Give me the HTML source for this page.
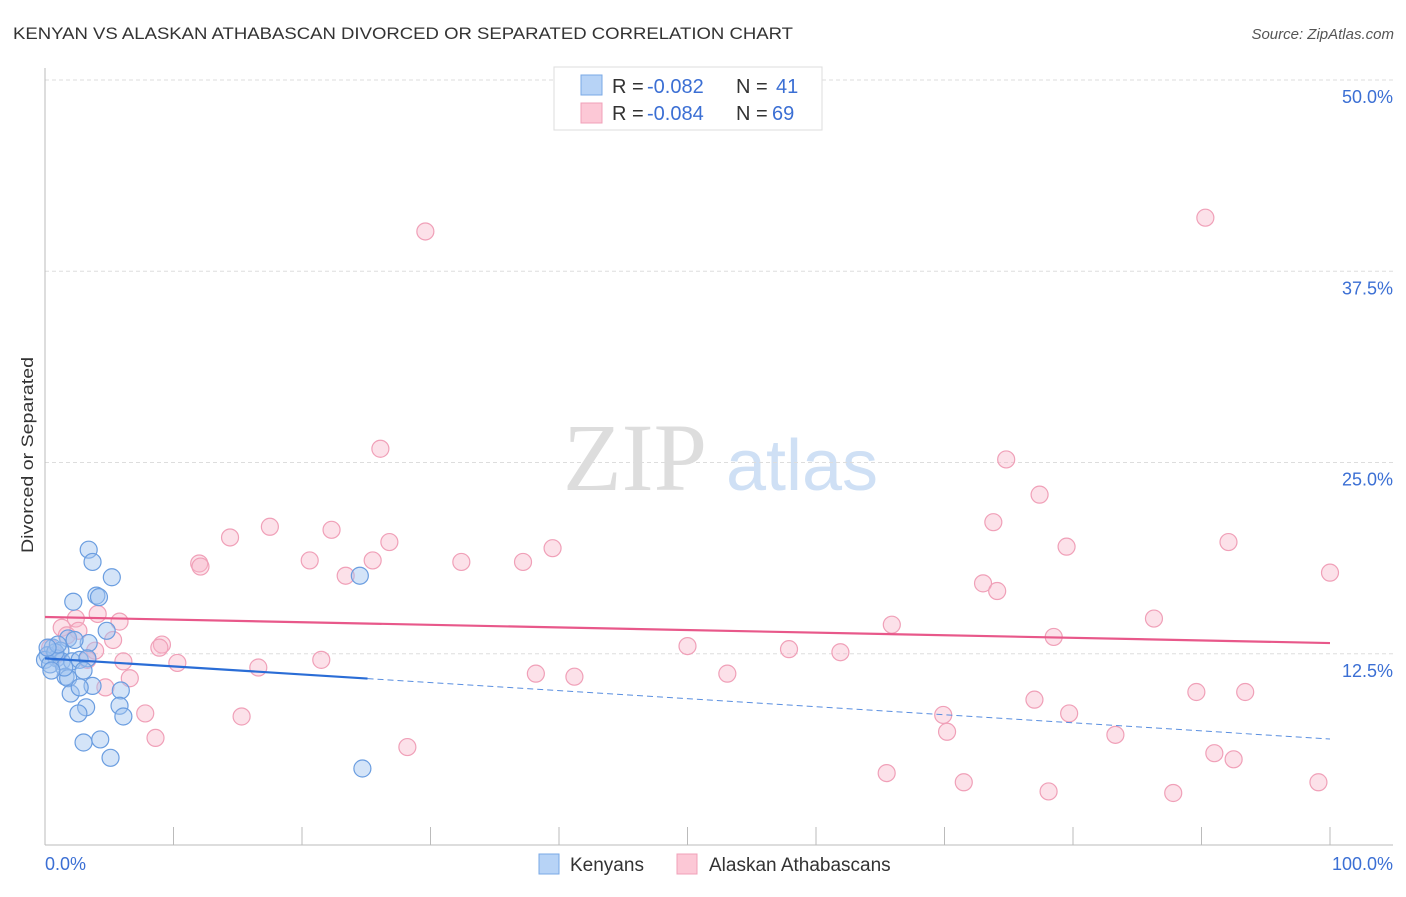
<!DOCTYPE html>
<html><head><meta charset="utf-8"><style>
body{margin:0;background:#fff;font-family:"Liberation Sans",sans-serif;}
svg text{font-family:"Liberation Sans",sans-serif;}
</style></head><body>
<svg id="chart" width="1406" height="892" xmlns="http://www.w3.org/2000/svg">
<text x="13" y="39" font-size="17" fill="#333" textLength="780" lengthAdjust="spacingAndGlyphs">KENYAN VS ALASKAN ATHABASCAN DIVORCED OR SEPARATED CORRELATION CHART</text>
<text x="1394" y="39" font-size="15" fill="#555" text-anchor="end" font-style="italic">Source: ZipAtlas.com</text>
<text transform="translate(33,455) rotate(-90)" font-size="17" fill="#333" text-anchor="middle" textLength="196" lengthAdjust="spacingAndGlyphs">Divorced or Separated</text>
<g>
<text x="635" y="490" font-size="96" fill="#ddd" style="font-family:'Liberation Serif',serif" text-anchor="middle">ZIP</text>
<text x="802" y="490" font-size="72" fill="#cfe0f5" text-anchor="middle">atlas</text>
</g>
<g id="grid"></g><g id="axes"></g><g id="marks"></g>
<g>
<rect x="554" y="67" width="268" height="63" fill="#fff" stroke="#ddd"/>
<rect x="581" y="75" width="21" height="20" fill="#b7d3f6" stroke="#7aa8e6"/>
<rect x="581" y="103" width="21" height="20" fill="#fcc8d6" stroke="#f0a0b8"/>
<text x="612" y="93" font-size="20" fill="#333">R =</text>
<text x="647" y="93" font-size="20" fill="#3b6fd4">-0.082</text>
<text x="736" y="93" font-size="20" fill="#333">N =</text>
<text x="776" y="93" font-size="20" fill="#3b6fd4">41</text>
<text x="612" y="120" font-size="20" fill="#333">R =</text>
<text x="647" y="120" font-size="20" fill="#3b6fd4">-0.084</text>
<text x="736" y="120" font-size="20" fill="#333">N =</text>
<text x="772" y="120" font-size="20" fill="#3b6fd4">69</text>
</g>
<g>
<rect x="539" y="854" width="20" height="20" fill="#b7d3f6" stroke="#7aa8e6"/>
<text x="570" y="871" font-size="19" fill="#333">Kenyans</text>
<rect x="677" y="854" width="20" height="20" fill="#fcc8d6" stroke="#f0a0b8"/>
<text x="709" y="871" font-size="19" fill="#333">Alaskan Athabascans</text>
</g>
</svg>
<script>
const yTicks=[12.5,25,37.5,50];
const yTickLabels=["12.5%","25.0%","37.5%","50.0%"];
const xTickLabels=["0.0%","100.0%"];
const blueX=[3.4,3.7,5.2,4.0,4.2,2.2,4.8,1.8,3.4,0.6,1.2,0.2,0.9,0.0,1.3,2.1,2.7,3.3,3.0,1.6,1.8,3.7,2.0,2.7,5.9,3.2,5.8,2.6,6.1,3.0,4.3,5.1,24.5,24.7,0.4,0.8,1.0,0.2,2.3,1.5,0.5];
const blueY=[19.3,18.5,17.5,16.3,16.2,15.9,14.0,13.5,13.2,12.9,12.7,12.4,12.2,12.1,12.0,12.0,12.1,12.2,11.4,11.0,10.9,10.4,9.9,10.3,10.1,9.0,9.1,8.6,8.4,6.7,6.9,5.7,17.6,5.0,11.8,12.6,13.1,12.9,13.4,11.6,11.4];
const pinkX=[29.6,90.3,26.1,74.8,77.4,73.8,17.5,22.3,14.4,26.8,39.5,79.5,92.1,12.0,12.1,20.6,25.5,32.4,37.2,23.4,100.0,73.0,74.1,4.1,5.8,2.4,1.3,2.6,86.3,65.9,5.3,1.7,78.5,9.1,8.9,3.9,50.0,57.9,61.9,3.3,6.1,10.3,21.5,16.6,38.2,41.2,53.1,6.6,4.7,89.6,93.4,77.0,7.8,15.3,69.9,79.7,70.2,8.6,83.3,28.2,65.5,91.0,92.5,71.5,78.1,87.8,99.1,0.4,0.8];
const pinkY=[40.1,41.0,25.9,25.2,22.9,21.1,20.8,20.6,20.1,19.8,19.4,19.5,19.8,18.4,18.2,18.6,18.6,18.5,18.5,17.6,17.8,17.1,16.6,15.1,14.6,14.8,14.2,14.0,14.8,14.4,13.4,13.7,13.6,13.1,12.9,12.7,13.0,12.8,12.6,12.1,12.0,11.9,12.1,11.6,11.2,11.0,11.2,10.9,10.3,10.0,10.0,9.5,8.6,8.4,8.5,8.6,7.4,7.0,7.2,6.4,4.7,6.0,5.6,4.1,3.5,3.4,4.1,12.9,12.4];
const blueTrend=[12.2,6.93];
const pinkTrend=[14.9,13.2];
const blueSolidEnd=25.1;
const NS="http://www.w3.org/2000/svg";
const X0=45,X1=1330,Y0=845,Y50=80;
const sx=v=>X0+(X1-X0)*v/100;
const sy=v=>Y0-(Y0-Y50)*v/50;
function mk(tag,attrs,parent){const e=document.createElementNS(NS,tag);for(const k in attrs)e.setAttribute(k,attrs[k]);parent.appendChild(e);return e;}
const grid=document.getElementById('grid'),axes=document.getElementById('axes'),marks=document.getElementById('marks');
yTicks.forEach((t,i)=>{
 const l=mk('line',{x1:X0,x2:1393,y1:sy(t),y2:sy(t),stroke:'#ddd','stroke-dasharray':'4,3'},grid);
 
 
 const tx=mk('text',{x:1393,y:sy(t)+23,'font-size':18,fill:'#3b6fd4','text-anchor':'end'},grid);
 tx.textContent=yTickLabels[i];
 
 
});
const ya=mk('line',{x1:X0,x2:X0,y1:68,y2:Y0,stroke:'#bbb'},axes);


const xa=mk('line',{x1:X0,x2:1393,y1:Y0,y2:Y0,stroke:'#bbb'},axes);


for(let i=1;i<=10;i++){const t=mk('line',{x1:sx(i*10),x2:sx(i*10),y1:827,y2:Y0,stroke:'#bbb'},axes);
 
 }
const xl0=mk('text',{x:45,y:870,'font-size':18,fill:'#3b6fd4'},axes);xl0.textContent=xTickLabels[0];


const xl1=mk('text',{x:1393,y:870,'font-size':18,fill:'#3b6fd4','text-anchor':'end'},axes);xl1.textContent=xTickLabels[1];


pinkX.forEach((x,i)=>{const c=mk('circle',{cx:sx(x),cy:sy(pinkY[i]),r:8.5,fill:'rgba(248,180,200,0.4)',stroke:'#f0a0b8','stroke-width':1.2},marks);
 
 });
blueX.forEach((x,i)=>{const c=mk('circle',{cx:sx(x),cy:sy(blueY[i]),r:8.5,fill:'rgba(160,196,240,0.45)',stroke:'#6a9de0','stroke-width':1.2},marks);
 
 });
const bt=x=>blueTrend[0]+(blueTrend[1]-blueTrend[0])*x/100;
const pt=mk('line',{x1:sx(0),y1:sy(pinkTrend[0]),x2:sx(100),y2:sy(pinkTrend[1]),stroke:'#e8588a','stroke-width':2.2},marks);


const b1=mk('line',{x1:sx(0),y1:sy(bt(0)),x2:sx(blueSolidEnd),y2:sy(bt(blueSolidEnd)),stroke:'#2a6dd6','stroke-width':2.2},marks);


const b2=mk('line',{x1:sx(blueSolidEnd),y1:sy(bt(blueSolidEnd)),x2:sx(100),y2:sy(bt(100)),stroke:'#5a8fe0','stroke-width':1,'stroke-dasharray':'6,4'},marks);


</script>
</body></html>
